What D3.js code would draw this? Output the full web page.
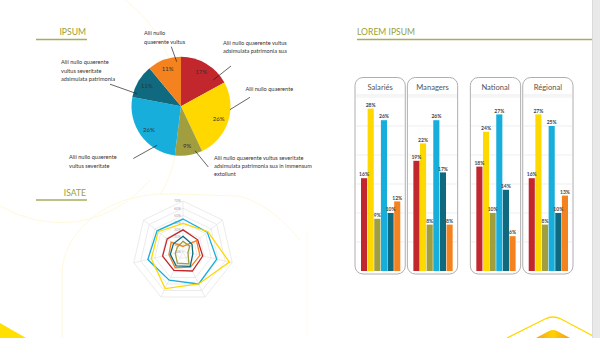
<!DOCTYPE html>
<html><head><meta charset="utf-8">
<script src="https://cdn.jsdelivr.net/npm/d3@7"></script>
<style>html,body{margin:0;padding:0;background:#fff;}svg{display:block;font-family:Lato,"Open Sans",sans-serif;}</style>
</head><body><svg id="c" width="600" height="338"></svg>
<script>
// ---------- DATA ----------
const pieValues = [17, 26, 9, 26, 11, 11];
const pieLabels = [
  ["Alii nullo quaerente vultus", "adsimulata patrimonia sua"],
  ["Alii nullo quaerente"],
  ["Alii nullo quaerente vultus severitate", "adsimulata patrimonia sua in immensum", "extollunt"],
  ["Alii nullo quaerente", "vultus severitate"],
  ["Alii nullo quaerente", "vultus severitate", "adsimulata patrimonia"],
  ["Alii nullo", "quaerente vultus"]
];
const seriesColors = ["#C1272D", "#FFD800", "#A09E3E", "#18AEDC", "#0F6A80", "#F4821F"];

const radarTicks = [0, 10, 20, 30, 40, 50, 60, 70];
const radarRed    = [30, 26, 28, 30, 29, 29, 28];
const radarYellow = [39, 44, 66, 50, 57, 45, 44];
const radarOlive  = [14, 12, 7, 19, 18, 11, 10];
const radarBlue   = [45, 43, 48, 50, 44, 50, 46];
const radarTeal   = [21, 16, 14, 23, 22, 18, 17];
const radarOrange = [7, 24, 24, 24, 25, 20, 21];

const barPanels = ["Salariés", "Managers", "National", "Régional"];
const barGroups = [["Salariés", "Managers"], ["National", "Régional"]];
const barSalaries = [16, 28, 9, 26, 10, 12];
const barManagers = [19, 22, 8, 26, 17, 8];
const barNational = [18, 24, 10, 27, 14, 6];
const barRegional = [16, 27, 8, 25, 10, 13];
const barTicks = [5, 10, 15, 20, 25, 30];

// ---------- LAYOUT ----------
const svg = d3.select("#c");
const olive = "#9AA03A";
const deco = "#FFF7D6";

// background decorations
const bg = svg.append("g");
bg.append("path").attr("d", "M125,0 Q172,35 178,100 Q182,160 160,195").attr("fill","none").attr("stroke",deco).attr("stroke-width",0.9);
bg.append("path").attr("d", "M0,206 Q35,226 75,222 Q120,215 150,180").attr("fill","none").attr("stroke",deco).attr("stroke-width",0.9);
bg.append("path").attr("d", "M62,338 L62,272 Q64,232 110,206 Q140,192 175,194 L238,196 Q268,202 300,240").attr("fill","none").attr("stroke",deco).attr("stroke-width",0.9);
bg.append("line").attr("x1",307).attr("x2",307).attr("y1",230).attr("y2",338).attr("stroke","#FFFAE6").attr("stroke-width",0.8);
// bottom-left triangle
bg.append("path").attr("d","M0,323 L26,338 L0,338 Z").attr("fill","#FFE000");
// bottom-right hex shapes
const grad = svg.append("defs").append("linearGradient").attr("id","hg").attr("x1","0").attr("x2","1").attr("y1","0").attr("y2","0");
grad.append("stop").attr("offset","0").attr("stop-color","#F7A21B");
grad.append("stop").attr("offset","0.5").attr("stop-color","#FFD200");
grad.append("stop").attr("offset","1").attr("stop-color","#F39A1E");
bg.append("path").attr("d","M507,338 L545,319 Q553,315 561,319 L597,338").attr("fill","none").attr("stroke","#FFD800").attr("stroke-width",1.3);
bg.append("path").attr("d","M536,338 L549,331 Q553,329 557,331 L570,338 Z").attr("fill","url(#hg)");
// right gray strip
svg.append("rect").attr("x",592).attr("y",0).attr("width",8).attr("height",338).attr("fill","#E9E9E9");
svg.append("line").attr("x1",592.5).attr("x2",592.5).attr("y1",0).attr("y2",338).attr("stroke","#DADADA").attr("stroke-width",1);

// section titles
function title(txt, xEnd, anchor, y, x1, x2) {
  svg.append("text").attr("x", xEnd).attr("y", y).attr("text-anchor", anchor)
    .attr("font-size", 8.6).attr("fill", olive).text(txt);
  svg.append("line").attr("x1", x1).attr("x2", x2).attr("y1", y + 4.5).attr("y2", y + 4.5)
    .attr("stroke", "#A8AC5C").attr("stroke-width", 1.3);
}
title("IPSUM", 86, "end", 35, 36, 87);
title("ISATE", 86, "end", 195.5, 36, 87);
title("LOREM IPSUM", 357, "start", 35, 357, 592);

// ---------- PIE ----------
const pcx = 181, pcy = 106.3, pr = 49.5;
const pie = d3.pie().sort(null).value(d => d)(pieValues);
const arc = d3.arc().innerRadius(0).outerRadius(pr);
const gp = svg.append("g").attr("transform", `translate(${pcx},${pcy})`);
gp.selectAll("path").data(pie).join("path").attr("d", arc)
  .attr("fill", (d, i) => seriesColors[i]);
const labArc = d3.arc().innerRadius(pr * 0.8).outerRadius(pr * 0.8);
gp.selectAll("text.pct").data(pie).join("text").attr("class","pct")
  .attr("transform", d => `translate(${labArc.centroid(d)})`)
  .attr("text-anchor","middle").attr("dy","0.35em")
  .attr("font-size", 6).attr("fill", "#333").text(d => d.data + "%");

// leader lines: position within slice (fraction), inner radius, outer end
const leaderFrac = [0.83, 0.35, 0.24, 0.26, 0.13, 0.86];
const leaderInnerR = [41.5, 49, 46.5, 45.7, 45.8, 44.8];
const labelPos = [[223, 44.7], [245.5, 91.3], [214, 160], [69, 159.3], [61, 64.3], [144, 35.3]];
const leaderEnd = [[231, 66], [250, 97.3], [208.3, 167], [133.3, 158.5], [110, 84.2], [171.3, 46.7]];
pie.forEach((d, i) => {
  const a = d.startAngle + (d.endAngle - d.startAngle) * leaderFrac[i];
  const x1 = pcx + leaderInnerR[i] * Math.sin(a), y1 = pcy - leaderInnerR[i] * Math.cos(a);
  svg.append("line").attr("x1", x1).attr("y1", y1).attr("x2", leaderEnd[i][0]).attr("y2", leaderEnd[i][1])
    .attr("stroke", "#222").attr("stroke-width", 0.7);
  const t = svg.append("text").attr("x", labelPos[i][0]).attr("y", labelPos[i][1])
    .attr("font-size", 5.6).attr("fill", "#333");
  pieLabels[i].forEach((ln, k) => t.append("tspan").attr("x", labelPos[i][0]).attr("dy", k ? 8.2 : 0).text(ln));
});

// ---------- RADAR ----------
const rcx = 183, rcy = 251.5, rR = 50.5, nAx = 7;
const rs = d3.scaleLinear().domain([0, 70]).range([0, rR]);
const ang = i => i * 2 * Math.PI / nAx;
const pt = (v, i) => [rcx + rs(v) * Math.sin(ang(i)), rcy - rs(v) * Math.cos(ang(i))];
const gr = svg.append("g");
radarTicks.filter(t => t > 0).forEach(t => {
  gr.append("polygon").attr("points", d3.range(nAx).map(i => pt(t, i).join(",")).join(" "))
    .attr("fill", "none").attr("stroke", "#DDDDDD").attr("stroke-width", 0.6);
});
d3.range(nAx).forEach(i => {
  const p = pt(70, i);
  gr.append("line").attr("x1", rcx).attr("y1", rcy).attr("x2", p[0]).attr("y2", p[1])
    .attr("stroke", "#DDDDDD").attr("stroke-width", 0.6);
});
radarTicks.forEach(t => {
  gr.append("text").attr("x", rcx - 2).attr("y", rcy - rs(t) + 1.3).attr("text-anchor", "end")
    .attr("font-size", 3.6).attr("fill", "#AAAAAA").text(t + "%");
});
const radarSeries = [radarBlue, radarYellow, radarRed, radarOrange, radarTeal, radarOlive];
const radarCols = [seriesColors[3], seriesColors[1], seriesColors[0], seriesColors[5], seriesColors[4], seriesColors[2]];
const line = d3.line().curve(d3.curveLinearClosed);
radarSeries.forEach((s, k) => {
  gr.append("path").attr("d", line(s.map((v, i) => pt(v, i))))
    .attr("fill", "none").attr("stroke", radarCols[k]).attr("stroke-width", 1.3).attr("stroke-linejoin","miter");
});

// ---------- BARS ----------
const barData = { "Salariés": barSalaries, "Managers": barManagers, "National": barNational, "Régional": barRegional };
const groupX = d3.scaleBand().domain([0, 1]).range([355, 573]).paddingInner(0.11);
const yb = d3.scaleLinear().domain([0, 30]).range([271, 97]);
const panelTop = 77.5, panelBottom = 274, headerY = 95;
barGroups.forEach((grp, gi) => {
  const px = d3.scaleBand().domain(grp).range([groupX(gi), groupX(gi) + groupX.bandwidth()]).paddingInner(0.04);
  grp.forEach(name => {
    const x0 = px(name), w = px.bandwidth();
    const g = svg.append("g");
    g.append("rect").attr("x", x0).attr("y", panelTop).attr("width", w).attr("height", panelBottom - panelTop)
      .attr("rx", 8).attr("ry", 8).attr("fill", "#fff").attr("stroke", "#9A9A9A").attr("stroke-width", 0.8);
    g.append("line").attr("x1", x0 + 0.5).attr("x2", x0 + w - 0.5).attr("y1", headerY).attr("y2", headerY)
      .attr("stroke", "#DDDDDD").attr("stroke-width", 0.6);
    barTicks.forEach(t => {
      g.append("line").attr("x1", x0 + 0.5).attr("x2", x0 + w - 0.5).attr("y1", yb(t)).attr("y2", yb(t))
        .attr("stroke", "#E2E2E2").attr("stroke-width", 0.6);
    });
    g.append("text").attr("x", x0 + w / 2).attr("y", 89.5).attr("text-anchor", "middle")
      .attr("font-size", 7.6).attr("fill", "#555").text(name);
    const vals = barData[name];
    const bx = d3.scaleBand().domain(d3.range(vals.length)).range([x0 + 6, x0 + w - 5]).paddingInner(0.08);
    g.selectAll("rect.bar").data(vals).join("rect").attr("class", "bar")
      .attr("x", (d, i) => bx(i)).attr("width", bx.bandwidth())
      .attr("y", d => yb(d)).attr("height", d => yb(0) - yb(d))
      .attr("fill", (d, i) => seriesColors[i]);
    g.selectAll("text.v").data(vals).join("text").attr("class", "v")
      .attr("x", (d, i) => bx(i) + bx.bandwidth() / 2).attr("y", d => yb(d) - 1.8)
      .attr("text-anchor", "middle").attr("font-size", 5).attr("font-weight", "bold")
      .attr("fill", "#444").text(d => d + "%");
  });
});
</script></body></html>
